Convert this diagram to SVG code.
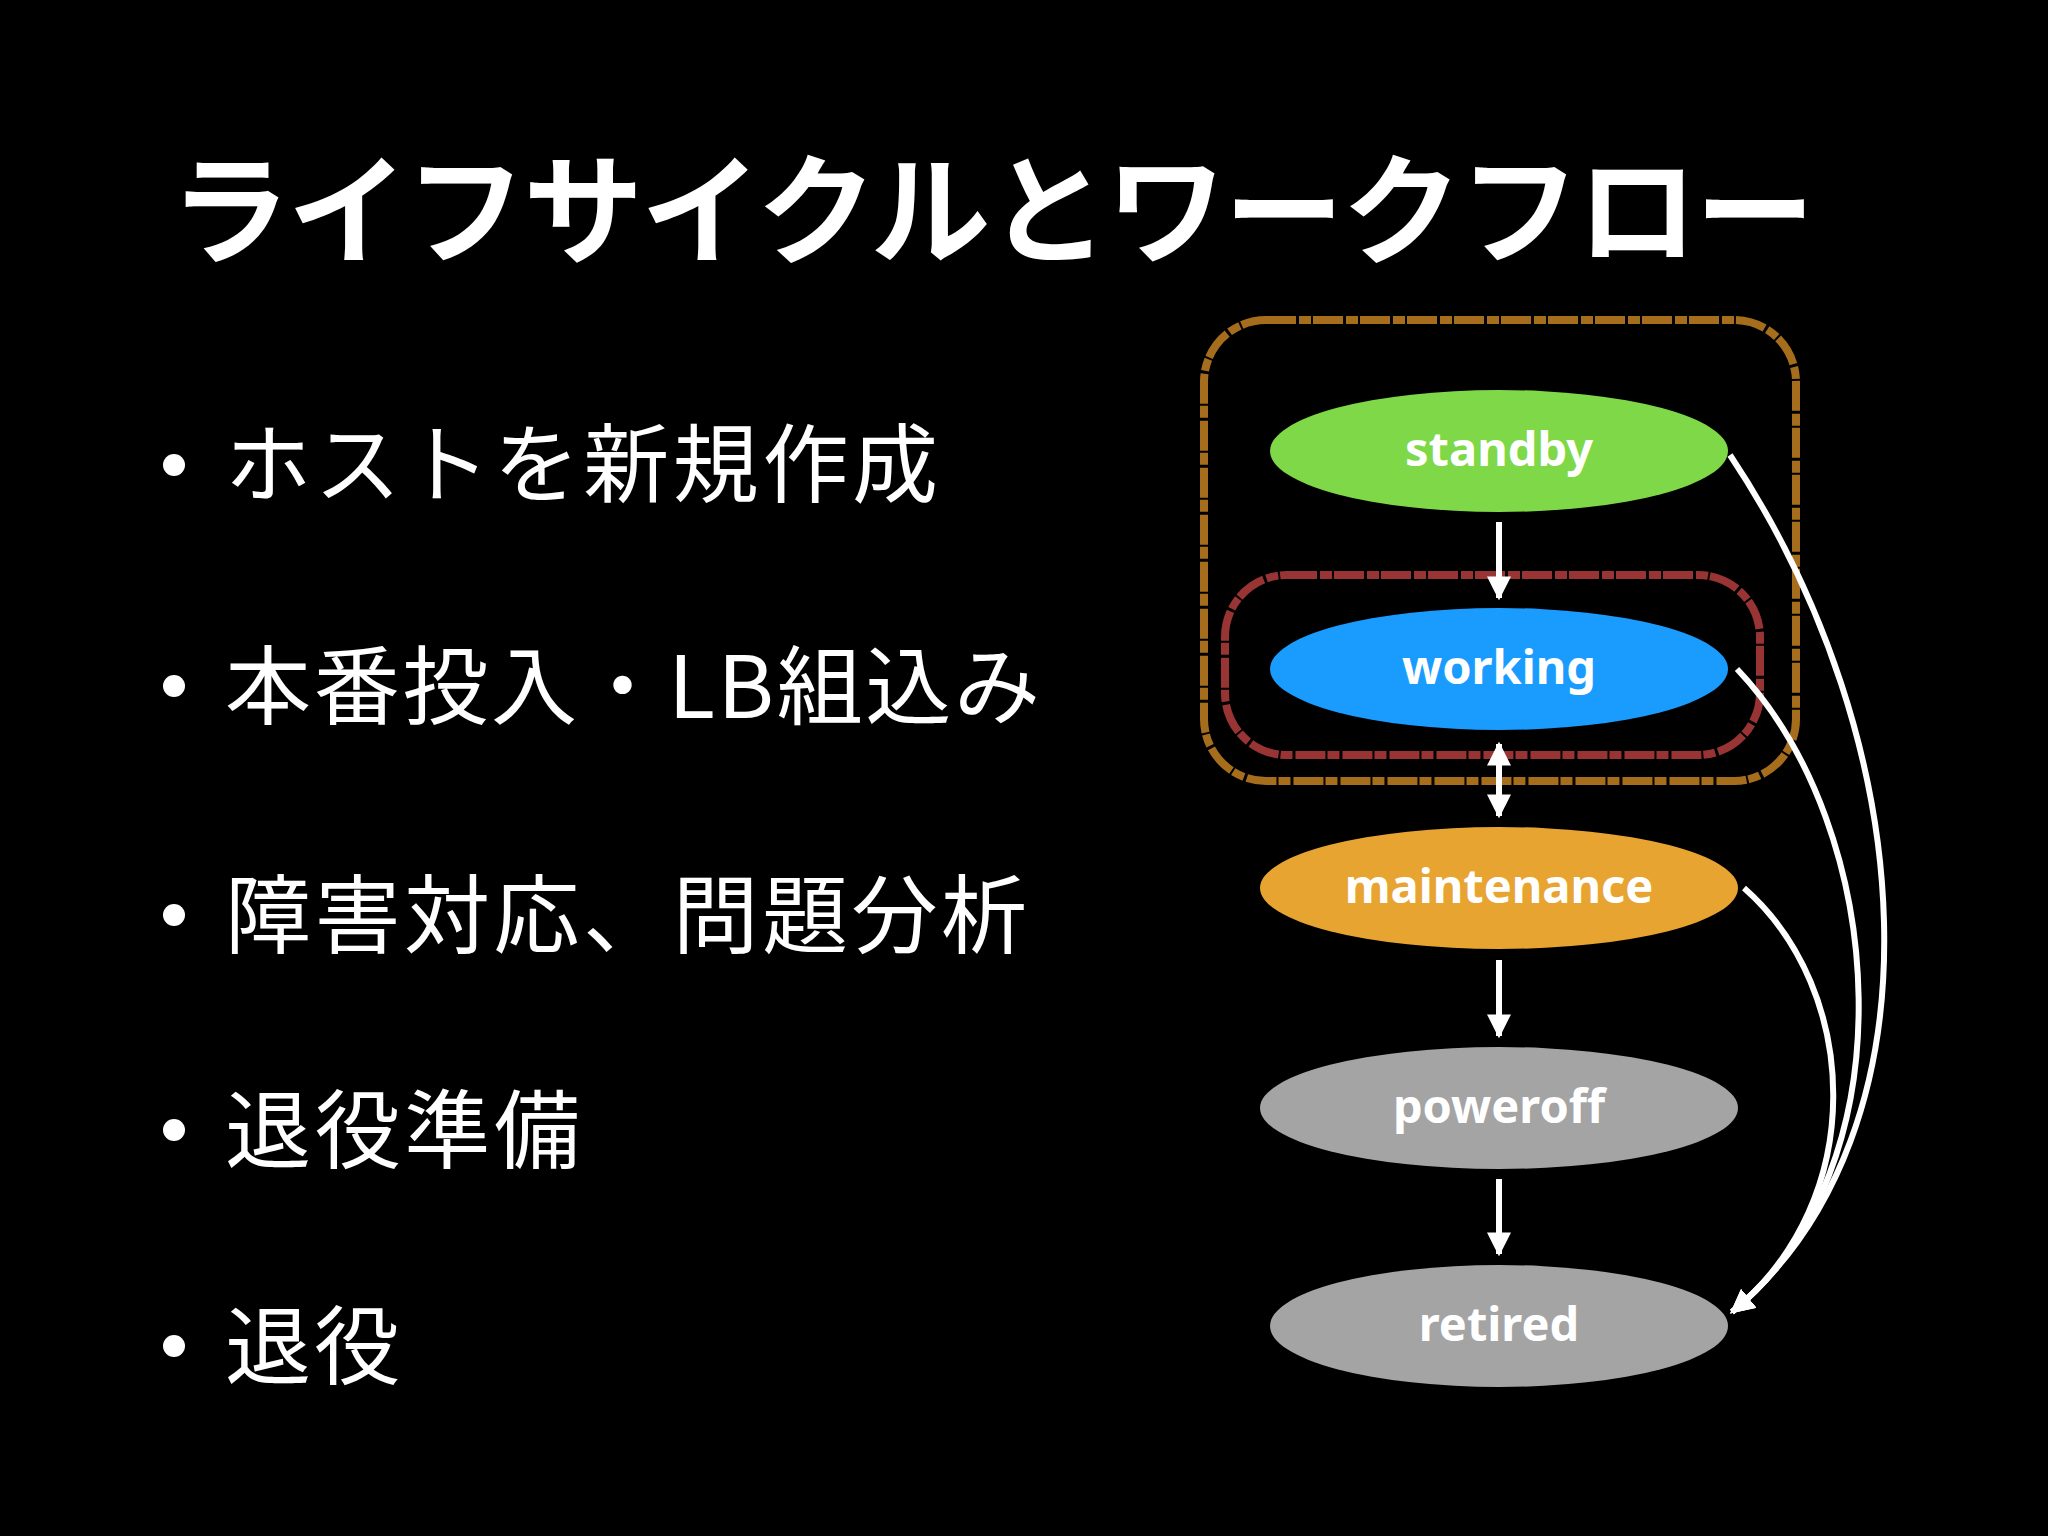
<svg xmlns="http://www.w3.org/2000/svg" width="2048" height="1536" viewBox="0 0 2048 1536">
<defs>
<style>
.t{fill:#fff;font-family:"Noto Sans CJK JP","Noto Sans",sans-serif}
.b{font-size:86px}
.n{fill:#fff;font-family:"Noto Sans","Open Sans",sans-serif;font-weight:bold;font-size:47px;text-anchor:middle}
.c{stroke:#fff;stroke-width:6;fill:none}
</style>
<marker id="a" viewBox="0 0 10 10" refX="9" refY="5" markerWidth="4" markerHeight="4" orient="auto-start-reverse"><path d="M0,0 L10,5 L0,10 Z" fill="#fff"/></marker>
</defs>
<rect width="2048" height="1536" fill="#000"/>
<text class="t" x="170" y="255" font-size="120" font-weight="bold" textLength="1645">ライフサイクルとワークフロー</text>
<g class="t b">
<circle cx="174" cy="465" r="11" fill="#fff"/><text x="225" y="496" textLength="713">ホストを新規作成</text>
<circle cx="174" cy="686" r="11" fill="#fff"/><text x="225" y="718" textLength="815">本番投入・LB組込み</text>
<circle cx="174" cy="915" r="11" fill="#fff"/><text x="225" y="947" textLength="802">障害対応、問題分析</text>
<circle cx="174" cy="1130" r="11" fill="#fff"/><text x="225" y="1162" textLength="355">退役準備</text>
<circle cx="174" cy="1346" r="11" fill="#fff"/><text x="225" y="1378" textLength="175">退役</text>
</g>
<rect x="1204" y="320" width="592" height="461" rx="62" fill="none" stroke="#b8791f" stroke-width="8" stroke-dasharray="30 3 12 2" opacity="0.9"/>
<rect x="1225" y="575" width="535" height="180" rx="62" fill="none" stroke="#a83a3a" stroke-width="8" stroke-dasharray="30 3 12 2" opacity="0.9"/>
<g id="standby"><ellipse cx="1499" cy="451" rx="229" ry="61" fill="#7ed848"/><text class="n" x="1499" y="466">standby</text></g>
<g id="working"><ellipse cx="1499" cy="669" rx="229" ry="61" fill="#1a9cff"/><text class="n" x="1499" y="684">working</text></g>
<g id="maintenance"><ellipse cx="1499" cy="888" rx="239" ry="61" fill="#e8a431"/><text class="n" x="1499" y="903">maintenance</text></g>
<g id="poweroff"><ellipse cx="1499" cy="1108" rx="239" ry="61" fill="#a4a4a4"/><text class="n" x="1499" y="1123">poweroff</text></g>
<g id="retired"><ellipse cx="1499" cy="1326" rx="229" ry="61" fill="#a4a4a4"/><text class="n" x="1499" y="1341">retired</text></g>
<g id="connectors">
<path class="c" d="M1499,522 L1499,598" marker-end="url(#a)"/>
<path class="c" d="M1499,744 L1499,816" marker-start="url(#a)" marker-end="url(#a)"/>
<path class="c" d="M1499,960 L1499,1036" marker-end="url(#a)"/>
<path class="c" d="M1499,1179 L1499,1254" marker-end="url(#a)"/>
<path class="c" d="M1730,455 C1920,740 1950,1130 1732,1312" marker-end="url(#a)"/>
<path class="c" d="M1737,669 C1890,830 1910,1170 1732,1312" marker-end="url(#a)"/>
<path class="c" d="M1744,888 C1860,990 1870,1200 1732,1312" marker-end="url(#a)"/>
</g>
</svg>
